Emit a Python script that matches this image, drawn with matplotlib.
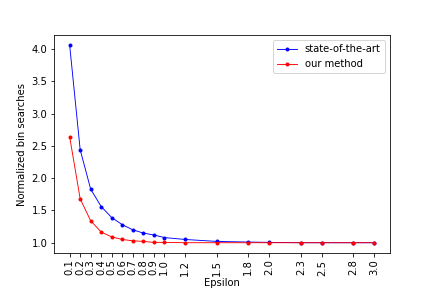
import matplotlib
matplotlib.use("Agg")
import matplotlib.pyplot as plt

eps = [0.1, 0.2, 0.3, 0.4, 0.5, 0.6, 0.7, 0.8, 0.9, 1.0, 1.2, 1.5, 1.8, 2.0, 2.3, 2.5, 2.8, 3.0]
tick_labels = ["0.1", "0.2", "0.3", "0.4", "0.5", "0.6", "0.7", "0.8", "0.9", "1.0",
               "1.2", "1.5", "1.8", "2.0", "2.3", "2.5", "2.8", "3.0"]
sota = [4.06, 2.44, 1.83, 1.56, 1.39, 1.28, 1.20, 1.15, 1.12, 1.08, 1.05, 1.02, 1.01, 1.005, 1.0, 1.0, 1.0, 1.0]
ours = [2.64, 1.68, 1.34, 1.165, 1.09, 1.05, 1.03, 1.02, 1.005, 1.005, 1.0, 1.0, 1.0, 1.0, 1.0, 1.0, 1.0, 1.0]

fig, ax = plt.subplots(figsize=(6, 4), dpi=72)
fig.subplots_adjust(left=0.126, right=0.902, top=0.877, bottom=0.123)
ax.plot(eps, sota, color="blue", marker=".", lw=0.9, ms=6, label="state-of-the-art")
ax.plot(eps, ours, color="red", marker=".", lw=0.9, ms=6, label="our method")
ax.set_xticks(eps)
ax.set_xticklabels(tick_labels, rotation=90)
ax.set_xlabel("Epsilon", labelpad=2)
ax.set_ylabel("Normalized bin searches")
ax.legend(loc="upper right")
fig.savefig("out.png", dpi=72)
